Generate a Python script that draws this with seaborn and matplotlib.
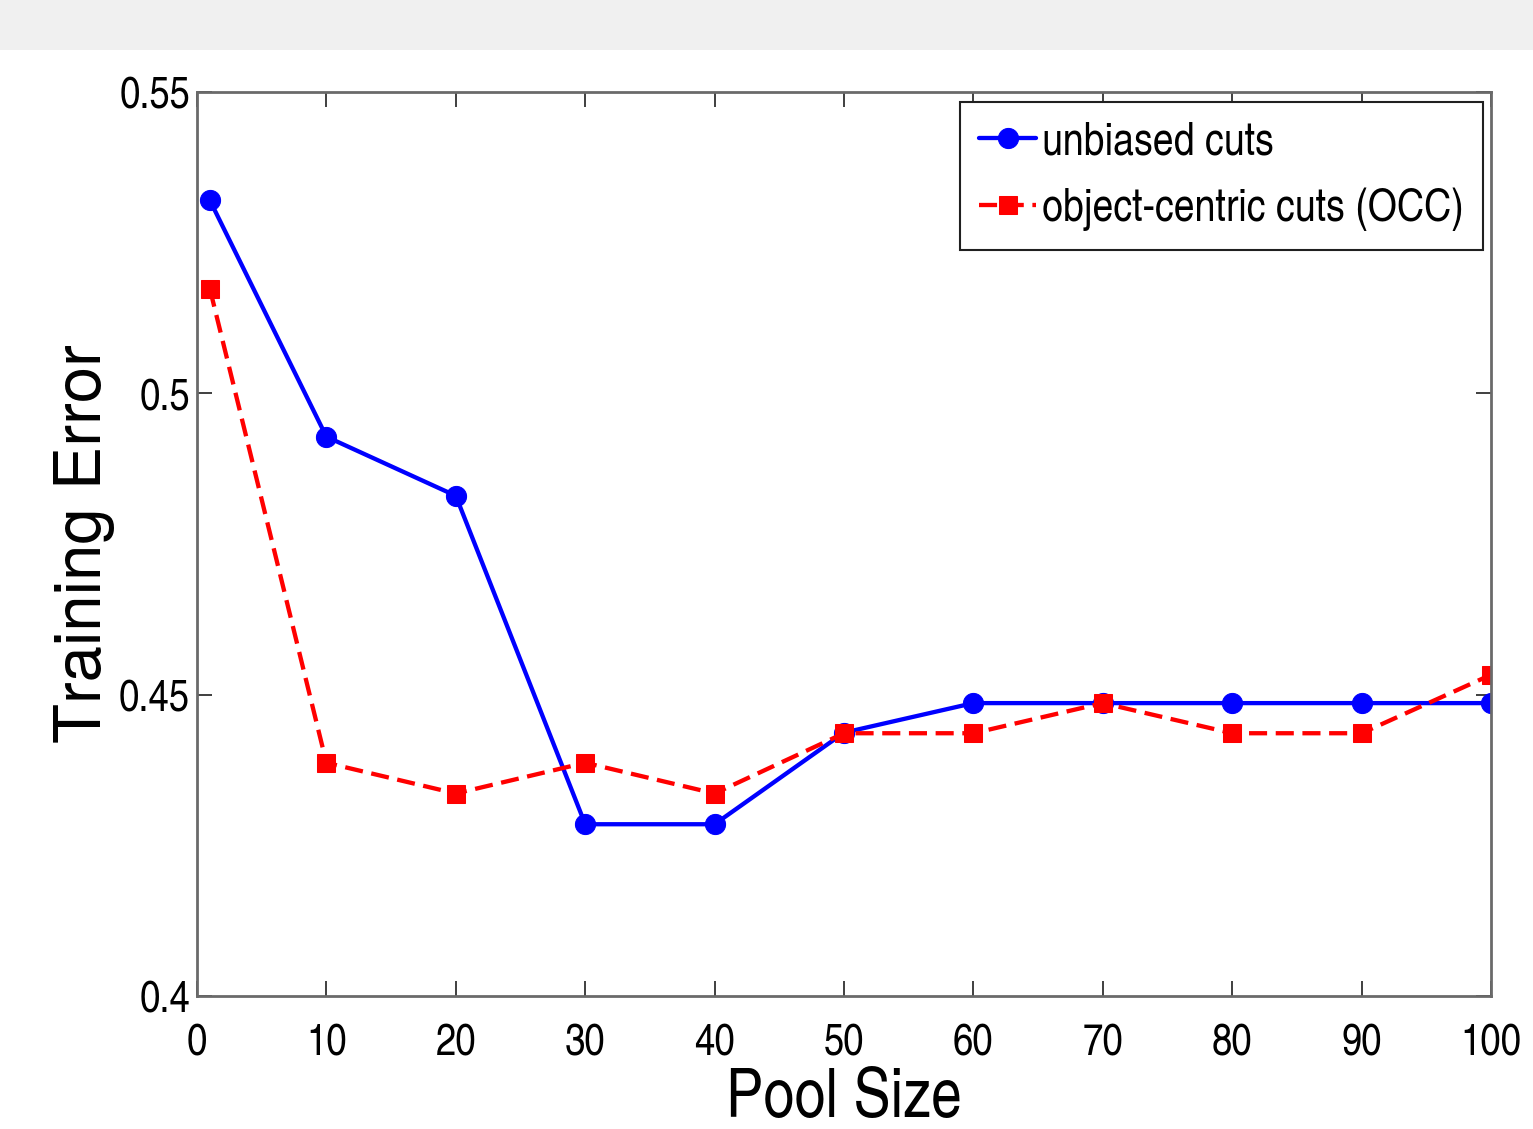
import numpy as np
import pandas as pd
import matplotlib
matplotlib.use('Agg')
import matplotlib.pyplot as plt
import seaborn as sns
from matplotlib.patches import Rectangle

# Values
pool_size = [1, 10, 20, 30, 40, 50, 60, 70, 80, 90, 100]
unbiased_err = [0.532, 0.4928, 0.483, 0.4285, 0.4285, 0.4437, 0.4486, 0.4486, 0.4486, 0.4486, 0.4486]
occ_err = [0.5173, 0.4387, 0.4336, 0.4387, 0.4336, 0.4436, 0.4436, 0.4486, 0.4436, 0.4436, 0.4533]

x_ticks = [0, 10, 20, 30, 40, 50, 60, 70, 80, 90, 100]
y_ticks = [0.4, 0.45, 0.5, 0.55]
y_tick_labels = ['0.4', '0.45', '0.5', '0.55']

sns.set_style('ticks')
plt.rcParams['font.family'] = ['TeX Gyre Heros Cn', 'Liberation Sans', 'DejaVu Sans']
plt.rcParams['text.color'] = 'black'
plt.rcParams['axes.labelcolor'] = 'black'
plt.rcParams['xtick.color'] = '#303030'
plt.rcParams['ytick.color'] = '#303030'
plt.rcParams['xtick.labelcolor'] = 'black'
plt.rcParams['ytick.labelcolor'] = 'black'

df = pd.DataFrame({
    'Pool Size': pool_size * 2,
    'Training Error': unbiased_err + occ_err,
    'method': ['unbiased cuts'] * len(pool_size) + ['object-centric cuts (OCC)'] * len(pool_size),
})

fig = plt.figure(figsize=(15.33, 11.29), dpi=100)
fig.patch.set_facecolor('white')
# grey toolbar strip at top of the screenshot
fig.patches.append(Rectangle((0, 1 - 50 / 1129), 1, 50 / 1129, transform=fig.transFigure,
                             facecolor='#f0f0f0', edgecolor='none', zorder=0))

ax = fig.add_axes([197 / 1533, 1 - 996 / 1129, (1491 - 197) / 1533, (996 - 92) / 1129])

sns.lineplot(data=df[df['method'] == 'unbiased cuts'], x='Pool Size', y='Training Error',
             ax=ax, color='#0000ff', marker='o', markersize=14.5, linewidth=3.1,
             markeredgecolor='#0000ff', label='unbiased cuts')
sns.lineplot(data=df[df['method'] != 'unbiased cuts'], x='Pool Size', y='Training Error',
             ax=ax, color='#ff0000', marker='s', markersize=12.5, linewidth=3.1,
             markeredgecolor='#ff0000', label='object-centric cuts (OCC)')
ax.lines[1].set_dashes([4.2, 2.0])

ax.set_xlim(0, 100)
ax.set_ylim(0.4, 0.55)
ax.set_xticks(x_ticks)
ax.set_yticks(y_ticks)
ax.set_yticklabels(y_tick_labels)

for s in ax.spines.values():
    s.set_visible(True)
    s.set_color('#6a6a6a')
    s.set_linewidth(2)

ax.tick_params(direction='in', length=11, width=1.3, top=True, right=True, labelsize=32)
ax.tick_params(axis='x', pad=19)
ax.tick_params(axis='y', pad=5)

ax.set_xlabel('Pool Size', fontsize=49)
ax.xaxis.set_label_coords(0.5, -0.08)
ax.set_ylabel('Training Error', fontsize=47, family=['TeX Gyre Heros', 'Liberation Sans'])
ax.yaxis.set_label_coords(-0.063, 0.5)

leg = ax.legend(loc='upper right', bbox_to_anchor=(0.9938, 0.989), fontsize=33,
                frameon=True, fancybox=False, framealpha=1, edgecolor='#202020',
                handlelength=1.25, handletextpad=0.12, borderpad=0.42, labelspacing=0.5,
                borderaxespad=0)
leg.get_frame().set_linewidth(1.5)

fig.savefig('out.png', dpi=100)
